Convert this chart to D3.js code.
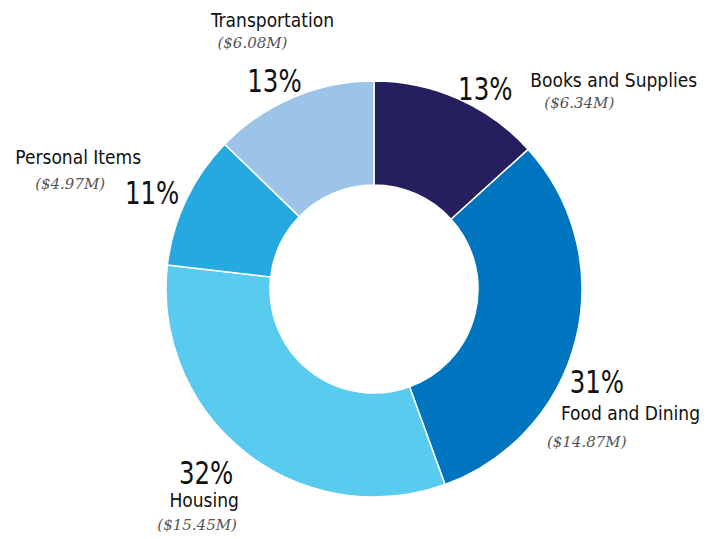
<!DOCTYPE html>
<html>
<head>
<meta charset="utf-8">
<script src="https://cdn.jsdelivr.net/npm/d3@7"></script>
<style>
  body { margin: 0; background: #fff; }
  svg text { font-family: "DejaVu Sans Condensed", "Liberation Sans Narrow", sans-serif; fill: #111; }
  .pct { font-size: 32px; }
  .name { font-size: 19px; }
  .val { font-family: "DejaVu Serif", "Liberation Serif", serif; font-style: italic; font-size: 15px; fill: #555; }
</style>
</head>
<body>
<div class="chart"></div>
<script>
// data
var categories = ['Books and Supplies', 'Food and Dining', 'Housing', 'Personal Items', 'Transportation']
var amounts = [6.34, 14.87, 15.45, 4.97, 6.08]   // $M
var pctLabels = ['13%', '31%', '32%', '11%', '13%']
var colors = ['#251f5f', '#0075bf', '#58cbee', '#26a9e0', '#9cc4e8']

var width = 717, height = 539
var cx = 374, cy = 289, outerR = 208, innerR = 104, labelR = 240

// where the name/value sit around each percent label
var layout = {
  'Books and Supplies': {nudge: [14, 19], name: [45, -13, 'start'], val: [59, 8, 'start']},
  'Food and Dining':    {nudge: [-10, 35], name: [-36, 27, 'start'], val: [-50, 54, 'start']},
  'Housing':            {nudge: [-19, -4], name: [-2, 23, 'middle'], val: [-9, 46, 'middle']},
  'Personal Items':     {nudge: [-5, 7], name: [-11, -40, 'end'], val: [-47, -15, 'end']},
  'Transportation':     {nudge: [-6, 13], name: [-2, -65, 'middle'], val: [-22, -44, 'middle']}
}

var data = categories.map((c, i) => ({name: c, amount: amounts[i], pct: pctLabels[i], color: colors[i]}))

var svg = d3.select('.chart').append('svg')
  .attr('width', width).attr('height', height)

var g = svg.append('g').attr('transform', `translate(${cx},${cy})`)

var pie = d3.pie().sort(null).value(d => d.amount)
var arc = d3.arc().innerRadius(innerR).outerRadius(outerR)
var labelArc = d3.arc().innerRadius(labelR).outerRadius(labelR)

var arcs = pie(data)

g.selectAll('path.slice').data(arcs).join('path')
  .attr('class', 'slice')
  .attr('d', arc)
  .attr('fill', d => d.data.color)
  .attr('stroke', '#fff')
  .attr('stroke-width', 1.5)

var lab = g.selectAll('g.lab').data(arcs).join('g')
  .attr('class', 'lab')
  .attr('transform', d => {
    var p = labelArc.centroid(d), n = layout[d.data.name].nudge
    return `translate(${p[0] + n[0]},${p[1] + 11 + n[1]})`
  })

// narrow the big numbers a bit, the original face is condensed
lab.append('text').attr('class', 'pct')
  .attr('text-anchor', 'middle')
  .attr('transform', 'scale(0.85,1)')
  .text(d => d.data.pct)

lab.append('text').attr('class', 'name')
  .attr('x', d => layout[d.data.name].name[0])
  .attr('y', d => layout[d.data.name].name[1])
  .attr('text-anchor', d => layout[d.data.name].name[2])
  .text(d => d.data.name)

lab.append('text').attr('class', 'val')
  .attr('x', d => layout[d.data.name].val[0])
  .attr('y', d => layout[d.data.name].val[1])
  .attr('text-anchor', d => layout[d.data.name].val[2])
  .text(d => `($${d.data.amount.toFixed(2)}M)`)
</script>
</body>
</html>
